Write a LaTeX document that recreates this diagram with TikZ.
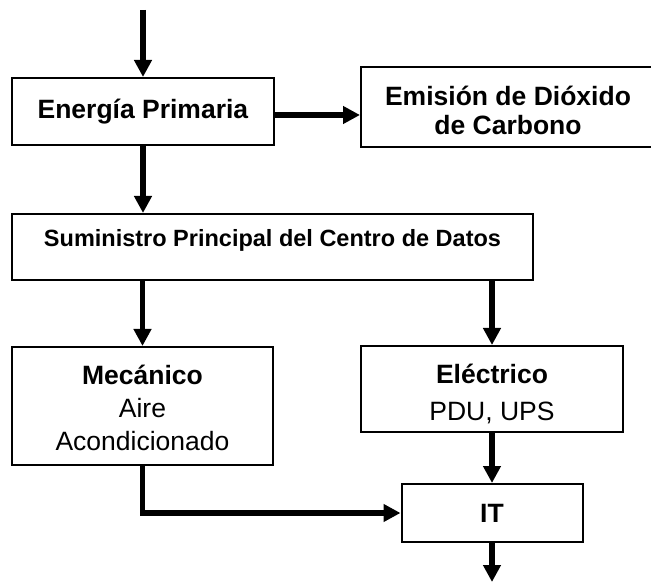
\documentclass[tikz,border=0pt]{standalone}
\usepackage{fontspec}
\setmainfont{Liberation Sans}
\usetikzlibrary{arrows.meta}
\begin{document}
\begin{tikzpicture}[x=1pt,y=-1pt,
  box/.style={draw=black,line width=2pt,fill=white,inner sep=0pt,align=center},
  txt/.style={inner sep=0pt,align=center},
  big/.style={font=\fontsize{26.5}{33}\selectfont},
  arr/.style={line width=5.5pt,-{Triangle[width=17pt,length=17pt]}}]
\useasboundingbox (0,0) rectangle (651,585);
\node[box,big,minimum width=262,minimum height=67] (ep) at (143,111.5) {\raisebox{2pt}{\textbf{Energía Primaria}}};
\node[box,minimum width=294,minimum height=80] (em) at (508,107) {};
\node[txt,font=\fontsize{26.5}{29}\selectfont\bfseries] (emt) at (508,110) {Emisión de Dióxido\\de Carbono};
\node[box,minimum width=521,minimum height=66] (sum) at (272.3,247) {};
\node[txt,font=\fontsize{23.5}{28}\selectfont\bfseries] (sumt) at (272.5,240) {Suministro Principal del Centro de Datos};
\node[box,minimum width=261,minimum height=118] (mec) at (142.5,406) {};
\node[txt,big] (mect) at (142.5,407.5) {\textbf{Mecánico}\\Aire\\Acondicionado};
\node[box,minimum width=262,minimum height=86] (ele) at (492,389) {};
\node[txt,font=\fontsize{26.5}{37}\selectfont] (elet) at (492,393.5) {\textbf{Eléctrico}\\PDU, UPS};
\node[box,big,minimum width=181,minimum height=58] (it) at (492,513) {\textbf{IT}};
\coordinate (top) at (143,10);
\coordinate (hy) at (0,115);
\coordinate (bot) at (492,582);
\draw[arr] (top) -- (ep.north);
\draw[arr] (ep.east |- hy) -- (em.west |- hy);
\draw[arr] (ep.south) -- (ep.south |- sum.north);
\draw[arr] (mec.north |- sum.south) -- (mec.north);
\draw[arr] (ele.north |- sum.south) -- (ele.north);
\draw[arr] (ele.south) -- (it.north);
\draw[arr] (mec.south) -- (mec.south |- it.west) -- (it.west);
\draw[arr] (it.south) -- (bot);
\end{tikzpicture}
\end{document}
